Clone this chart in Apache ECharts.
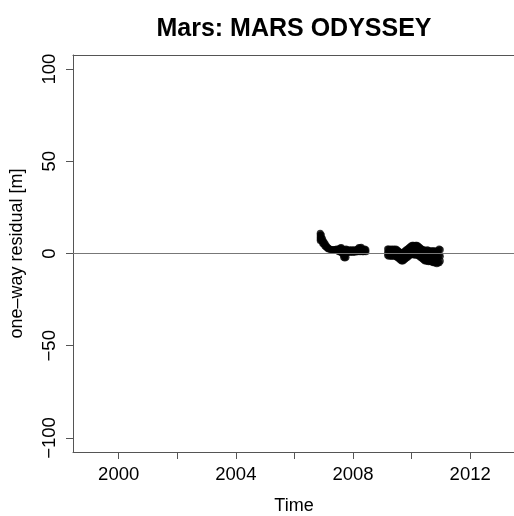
<!DOCTYPE html>
<html>
<head>
<meta charset="utf-8">
<script src="https://cdn.jsdelivr.net/npm/echarts@6/dist/echarts.min.js"></script>
<style>html,body{margin:0;padding:0;background:#fff}#c{width:514px;height:516px}</style>
</head>
<body>
<div id="c"></div>
<script>
// Observation epochs (decimal year) and the residuals seen at each epoch [m]
var obsTimes = [
  2006.88, 2006.92, 2006.96, 2007.00, 2007.04, 2007.08, 2007.12, 2007.16, 2007.20, 2007.24,
  2007.28, 2007.32, 2007.36, 2007.40, 2007.44, 2007.48, 2007.52, 2007.56, 2007.60, 2007.64,
  2007.68, 2007.72, 2007.76, 2007.80, 2007.84, 2007.88, 2007.92, 2007.96, 2008.00, 2008.04,
  2008.08, 2008.12, 2008.16, 2008.20, 2008.24, 2008.28, 2008.32, 2008.36, 2008.40, 2008.44,
  2009.18, 2009.22, 2009.26, 2009.30, 2009.34, 2009.38, 2009.42, 2009.46, 2009.50, 2009.54,
  2009.58, 2009.62, 2009.66, 2009.70, 2009.74, 2009.78, 2009.82, 2009.86, 2009.90, 2009.94,
  2009.98, 2010.02, 2010.06, 2010.10, 2010.14, 2010.18, 2010.22, 2010.26, 2010.30, 2010.34,
  2010.38, 2010.42, 2010.46, 2010.50, 2010.54, 2010.58, 2010.62, 2010.66, 2010.70, 2010.74,
  2010.78, 2010.82, 2010.86, 2010.90, 2010.94, 2010.98
];
var obsResiduals = [
  [11, 10, 9, 8, 7], [10, 8.5, 7], [8, 6.5, 5.5], [6.5, 5], [5.5, 4], [4.5, 3.5], [3.5, 3], [3, 2.5], [2.5], [2.2],
  [2], [2], [2.2], [2], [2.5], [2], [2.5, 1], [3, 1], [3.3, 0.5], [2.5, 0],
  [1.5, -1, -2], [2, -1.5, -2.5], [2.5, 0, -2], [2, 0.5], [1.5, 1], [2, 0.5], [1.5, 1], [2, 1], [1.5, 0.5], [2, 1],
  [1.5, 0.8], [2, 1], [2.5, 1], [3.3, 1.5], [3, 1], [3.4, 1.2], [2.5, 1], [2, 1], [2.5, 1.5], [2, 1],
  [2.5, 0.5, -1], [2.5, 1, -1.5], [2, 0.5, -1], [2.5, 0, -1.5], [2, 0.5, -1.5], [2.5, 0, -1], [2, 0.5, -1.5], [2.5, 0, -1.5], [2, 0, -2], [1.5, -0.5, -2.5],
  [1, -1.5, -3], [0.5, -2, -3.5], [0, -2, -4], [0.5, -1.5, -4], [1, -1, -3.5], [1.5, -0.5, -3], [2, 0, -2.5], [2.5, 0.5, -2], [3, 1, -1.5], [3.5, 1.5, -1],
  [4, 2, -0.5], [4.5, 2, -0.5], [4.5, 2, -0.5], [4, 1.5, -1], [4.5, 2, -0.5], [4.5, 2, -1], [4, 1.5, -1], [3.5, 1, -1.5], [3, 0.5, -2], [2.5, 0, -2.5],
  [2, -0.5, -3], [2, -1, -3.5], [1.5, -1, -4], [1.5, -1.5, -4], [2, -1, -4], [1.5, -1.5, -4.5], [1.5, -1.5, -4], [1, -2, -4.5], [1.5, -1.5, -4.5], [1.5, -2, -5],
  [1, -2, -5], [1.5, -2.5, -5], [1, -2, -5.5], [1.5, -2, -5], [2.5, -1, -5], [2, -1.5, -4]
];
var xTickYears = [2000, 2002, 2004, 2006, 2008, 2010, 2012];
var xLabelYears = [2000, 2004, 2008, 2012];
var yTickValues = [-100, -50, 0, 50, 100];

var points = [];
obsTimes.forEach(function (t, i) {
  obsResiduals[i].forEach(function (v) { points.push([t, v]); });
});

var FONT = 'Liberation Sans, Arial, Helvetica, sans-serif';
var AX = '#555';
var X_MIN = 1998.44, X_MAX = 2013.53;
var chart = echarts.init(document.getElementById('c'), null, {renderer: 'canvas'});
chart.setOption({
  animation: false,
  backgroundColor: '#fff',
  title: {
    text: 'Mars: MARS ODYSSEY',
    left: 289, top: 12, textAlign: 'center',
    textStyle: {fontFamily: FONT, fontWeight: 'bold', fontSize: 25, color: '#000'}
  },
  grid: {left: 73, right: -1, top: 55, bottom: 64, show: false, containLabel: false, outerBoundsMode: 'none'},
  xAxis: [{
    type: 'value', min: X_MIN, max: X_MAX, position: 'bottom',
    name: 'Time', nameLocation: 'middle', nameGap: 45,
    nameTextStyle: {fontFamily: FONT, fontSize: 18, color: '#000'},
    axisLine: {show: true, onZero: false, lineStyle: {color: AX, width: 1}},
    axisTick: {show: true, length: 7, customValues: xTickYears, lineStyle: {color: AX}},
    axisLabel: {customValues: xLabelYears, margin: 13, fontFamily: FONT, fontSize: 18.5, color: '#000',
      formatter: function (v) { return String(Math.round(v)); }},
    splitLine: {show: false}
  }, {
    type: 'value', min: X_MIN, max: X_MAX, position: 'top',
    axisLine: {show: true, onZero: false, lineStyle: {color: AX, width: 1}},
    axisTick: {show: false}, axisLabel: {show: false}, splitLine: {show: false}
  }],
  yAxis: {
    type: 'value', min: -107.6, max: 107.6,
    name: 'one\u2013way residual [m]', nameLocation: 'middle', nameGap: 47, nameRotate: 90,
    nameTextStyle: {fontFamily: FONT, fontSize: 18, color: '#000'},
    axisLine: {show: true, onZero: false, lineStyle: {color: AX, width: 1}},
    axisTick: {show: true, length: 7, customValues: yTickValues, lineStyle: {color: AX}},
    axisLabel: {customValues: yTickValues, rotate: 90, margin: 14, fontFamily: FONT, fontSize: 18.5, color: '#000',
      formatter: function (v) { return v < 0 ? '\u2212' + Math.abs(v) : String(v); }},
    splitLine: {show: false}
  },
  series: [{
    type: 'scatter',
    data: points,
    symbol: 'circle',
    symbolSize: 7,
    itemStyle: {color: '#000'},
    silent: true,
    markLine: {
      silent: true, symbol: ['none', 'none'], label: {show: false},
      lineStyle: {color: '#777', width: 1, type: 'solid'},
      data: [{yAxis: 0}]
    }
  }]
});
</script>
</body>
</html>
